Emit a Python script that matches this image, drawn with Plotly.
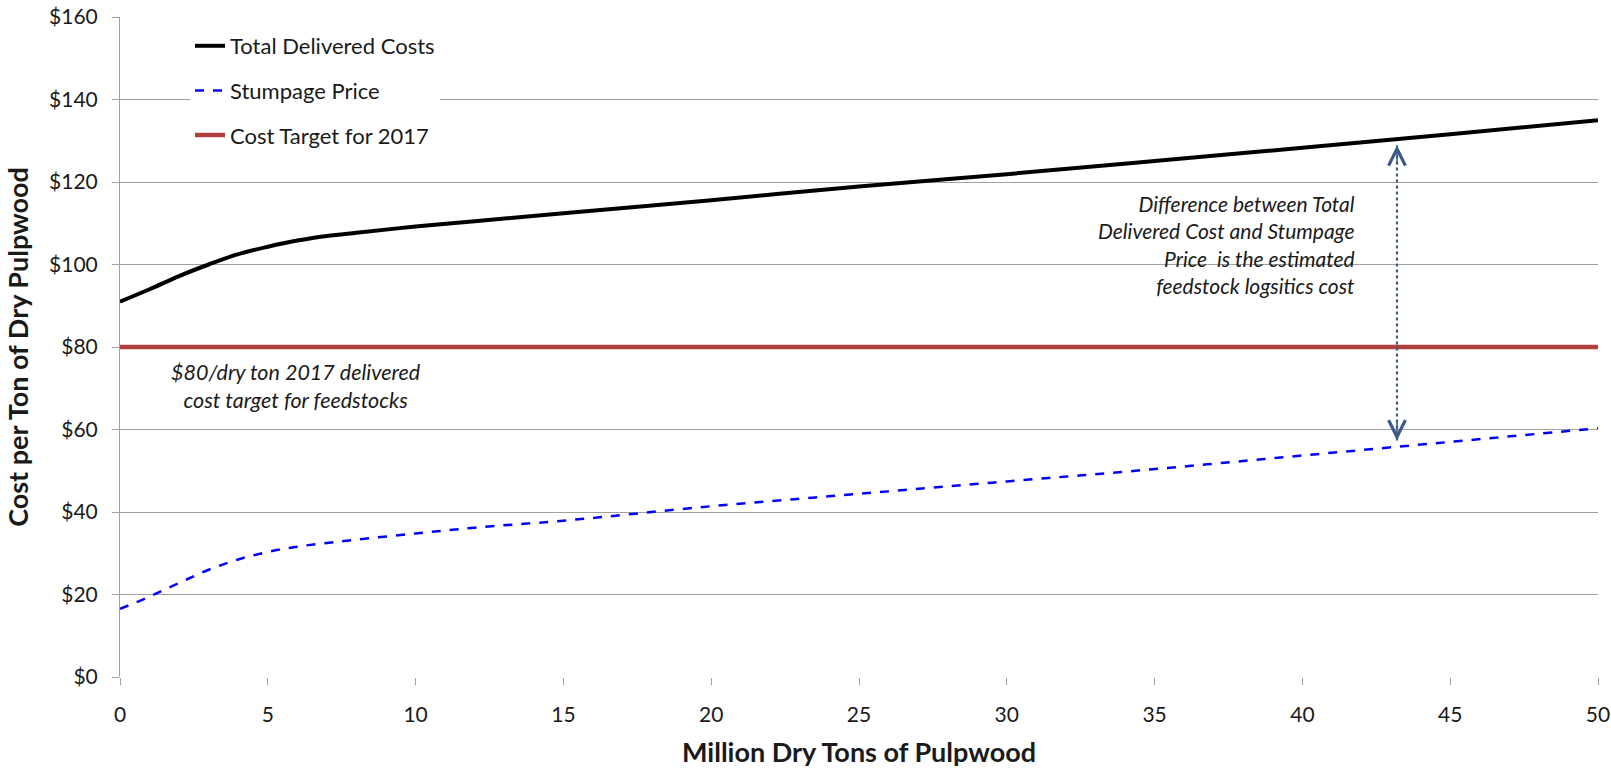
import numpy as np
import plotly.graph_objects as go

# Data
TONS = [0, 1, 2, 3, 4, 5, 6, 7, 8, 10, 12, 15, 20, 25, 30, 35, 40, 45, 50]
TOTAL_DELIVERED = [91, 94, 97.2, 100, 102.5, 104.3, 105.8, 106.9, 107.7, 109.2, 110.5,
                   112.4, 115.6, 118.9, 121.9, 125.1, 128.3, 131.6, 135]
STUMPAGE = [16.5, 19.5, 22.8, 26, 28.5, 30.3, 31.6, 32.5, 33.3, 34.8, 36.2,
            37.9, 41.4, 44.4, 47.4, 50.4, 53.7, 57, 60.3]
TARGET_X = [0, 50]
TARGET_COST = [80, 80]
ARROW_X = 43.2

Y_TICKS = [0, 20, 40, 60, 80, 100, 120, 140, 160]
Y_LABELS = [f"${v}" for v in Y_TICKS]
X_TICKS = list(range(0, 55, 5))

FONT = "Lato, 'Open Sans', sans-serif"
GRID = "#A0A0A0"
TEXT = "#1A1A1A"
ARROW_COLOR = "#3B5B85"

# plot area in pixels (left, right, top, bottom)
L, R, T, B = 120, 1598, 17, 677
PW, PH = R - L, B - T


def px_x(p):
    return (p - L) / PW


def px_y(p):
    return (B - p) / PH


fig = go.Figure()
fig.add_trace(go.Scatter(x=TONS, y=TOTAL_DELIVERED, mode="lines", name="Total Delivered Costs",
                         legendgroup="a", line=dict(color="black", width=4, shape="spline")))
fig.add_trace(go.Scatter(x=TONS, y=STUMPAGE, mode="lines", name="Stumpage Price",
                         legendgroup="b", line=dict(color="#0000FF", width=2.5, dash="dash", shape="spline")))
fig.add_trace(go.Scatter(x=TARGET_X, y=TARGET_COST, mode="lines", name="Cost Target for 2017",
                         legendgroup="c", line=dict(color="#B0403D", width=4.5)))

# dotted double arrow between the two curves
y_top = float(np.interp(ARROW_X, TONS, TOTAL_DELIVERED)) - 1.5
y_bot = float(np.interp(ARROW_X, TONS, STUMPAGE)) + 1.5
fig.add_shape(type="line", x0=ARROW_X, x1=ARROW_X, y0=y_bot, y1=y_top,
              line=dict(color=ARROW_COLOR, width=2.2, dash="dot"))
for y_tip, y_tail in [(y_top, y_top - 5), (y_bot, y_bot + 5)]:
    fig.add_annotation(x=ARROW_X, y=y_tip, ax=ARROW_X, ay=y_tail, xref="x", yref="y",
                       axref="x", ayref="y", text="", showarrow=True, arrowhead=5,
                       arrowsize=2.2, arrowwidth=1.5, arrowcolor=ARROW_COLOR)

# white box behind the note, masking gridlines
fig.add_shape(type="rect", xref="paper", yref="paper", x0=px_x(1081), x1=px_x(1368),
              y0=px_y(310), y1=px_y(176), fillcolor="white", line_width=0, layer="between")

fig.add_annotation(x=px_x(1357), y=px_y(244), xref="paper", yref="paper",
                   xanchor="right", yanchor="middle", align="right", showarrow=False,
                   text="Difference between Total<br>Delivered Cost and Stumpage<br>Price  is the estimated<br>feedstock logsitics cost",
                   font=dict(family=FONT, size=21, color=TEXT, style="italic"))
fig.add_annotation(x=px_x(296), y=px_y(386), xref="paper", yref="paper",
                   xanchor="center", yanchor="middle", align="center", showarrow=False,
                   text="$80/dry ton 2017 delivered<br>cost target for feedstocks",
                   font=dict(family=FONT, size=21.5, color=TEXT, style="italic"))

fig.update_layout(
    width=1611, height=768,
    margin=dict(l=L, r=1611 - R, t=T, b=768 - B),
    plot_bgcolor="white", paper_bgcolor="white",
    font=dict(family=FONT, size=21, color=TEXT),
    showlegend=True,
    legend=dict(x=px_x(190), y=px_y(25), xanchor="left", yanchor="top",
                bgcolor="white", borderwidth=0, font=dict(size=22, color=TEXT),
                traceorder="grouped", tracegroupgap=13),
    xaxis=dict(range=[0, 50], tickvals=X_TICKS, showgrid=False, zeroline=False,
               ticks="outside", ticklen=7, tickcolor=GRID, tickfont=dict(size=21),
               ticklabelstandoff=12, showline=False, automargin=False,
               title=dict(text="<b>Million Dry Tons of Pulpwood</b>", font=dict(size=27), standoff=18)),
    yaxis=dict(range=[0, 160], tickvals=Y_TICKS, ticktext=Y_LABELS, showgrid=True, gridcolor=GRID,
               gridwidth=1.4, zeroline=False, showline=True, linecolor=GRID, linewidth=1,
               ticks="outside", ticklen=7, tickcolor=GRID, tickfont=dict(size=21),
               ticklabelstandoff=10, automargin=False,
               title=dict(text="<b>Cost per Ton of Dry Pulpwood</b>", font=dict(size=27), standoff=12)),
)

fig.write_html("out.html", config={"displayModeBar": False},
               post_script="document.body.style.margin='0px';")
